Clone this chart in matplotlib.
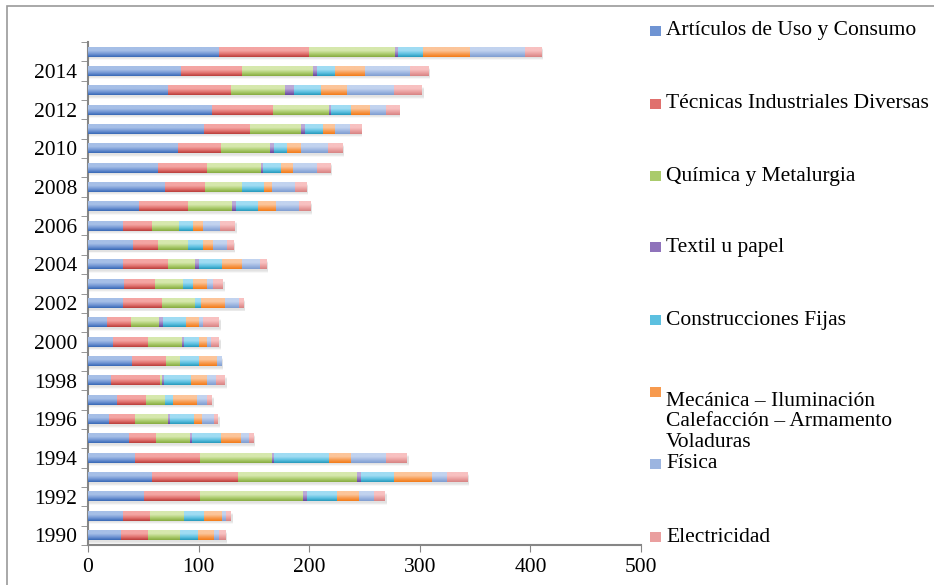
import numpy as np
import matplotlib
matplotlib.use("Agg")
import matplotlib.pyplot as plt
from matplotlib.colors import LinearSegmentedColormap
from matplotlib.patches import Rectangle

plt.rcParams['font.family'] = ['Liberation Serif', 'DejaVu Serif']

# años (de abajo hacia arriba)
years = list(range(1990, 2016))
year_labels = [str(y) if y % 2 == 0 else '' for y in years]

categorias = [
    'Artículos de Uso y Consumo',
    'Técnicas Industriales Diversas',
    'Química y Metalurgia',
    'Textil u papel',
    'Construcciones Fijas',
    'Mecánica – Iluminación\nCalefacción – Armamento\nVoladuras',
    'Física',
    'Electricidad',
]

# valores por categoría, 1990 .. 2015
articulos = [30, 31.5, 50.5, 57.7, 42.3, 37, 19, 26, 20.7, 39.6, 22.5, 17, 31.5,
             33, 31.5, 40.5, 31.5, 46, 70, 63, 81, 104.5, 112, 72, 84, 118]
tecnicas = [24.4, 24.4, 50.4, 78.3, 58.6, 24.4, 23.4, 26, 44, 30.6, 31.5, 21.6, 35,
            28, 40.5, 22.5, 26, 44, 36, 45, 39, 42, 55, 57, 55, 82]
quimica = [28.8, 30.6, 93.7, 107.2, 65.8, 30.6, 30, 18, 1.8, 12.6, 30.6, 26, 30.6,
           25, 25, 27, 25, 40.5, 33, 48, 45, 46, 51, 49, 64, 78]
textil = [0, 0, 3.6, 3.6, 1.8, 1.8, 1.8, 0, 1.8, 0, 1.8, 3.6, 0,
          0, 3.6, 0, 0, 3.6, 0, 2, 3.6, 4, 2, 8, 4, 2]
construcciones = [16.2, 18, 27, 29.8, 49.5, 26.4, 21.6, 7.2, 25, 18, 14.4, 20, 5.4,
                  9, 21, 14.4, 12.6, 20, 20, 16.5, 11, 16, 18, 25, 16, 23]
mecanica = [14.4, 17.1, 19.8, 34.2, 19.8, 18, 7.2, 21.6, 14.4, 15.6, 7.2, 12.6, 21,
            12.6, 18, 9, 9, 16, 7, 11, 13, 11, 17, 23, 27, 42]
fisica = [4.5, 3.6, 13.9, 13.5, 31.8, 7.2, 10.8, 9, 8.4, 4.2, 3.6, 3.6, 12.6,
          5.4, 16, 12, 15.6, 21, 21, 22, 24, 13, 14, 43, 41, 50]
electricidad = [6.3, 4.5, 9.6, 18.9, 18.7, 4.2, 3.6, 4.5, 7.8, 0, 7.2, 14.4, 4.2,
                9, 6, 6, 13.2, 10, 10, 12, 13.5, 10, 12, 25, 17, 15]

series = [articulos, tecnicas, quimica, textil, construcciones, mecanica, fisica, electricidad]

# (oscuro abajo, medio, claro arriba) estilo Excel
gradientes = [
    ('#3767b5', '#6f94d3', '#a6bfe7'),
    ('#b83c39', '#e0706d', '#f4a5a3'),
    ('#86aa40', '#aacb6c', '#d6e8ad'),
    ('#65459a', '#8f73bb', '#bba9d7'),
    ('#2698bb', '#5cc0e0', '#a0dcf3'),
    ('#f27a18', '#f79a4e', '#fcc59a'),
    ('#7f9dd0', '#9cb5e0', '#c2d3ef'),
    ('#d68383', '#ea9f9f', '#f8c1c1'),
]

W, H = 934, 585
fig = plt.figure(figsize=(W / 100, H / 100), dpi=100)
ax = fig.add_axes([88 / W, 1 - 545 / H, (641 - 88) / W, (545 - 42) / H])

# marco exterior del gráfico
fig.patches.append(Rectangle((7 / W, -0.05), 1.1, 1 - 6 / H + 0.05, transform=fig.transFigure,
                             fill=False, edgecolor='#9a9a9a', linewidth=1.2))

y = np.arange(len(years))
bar_h = 0.5
totales = np.sum(np.array(series), axis=0)

# sombra suave debajo de las barras
for k, a in enumerate([0.06, 0.11, 0.06]):
    ax.barh(y - 0.13 - 0.05 * (k - 1), totales + 1.5, height=bar_h, color='#808080',
            alpha=a, linewidth=0, zorder=1)

grad = np.linspace(0, 1, 64).reshape(-1, 1)
left = np.zeros(len(years))
for vals, (c0, c1, c2) in zip(series, gradientes):
    vals = np.array(vals, dtype=float)
    bars = ax.barh(y, vals, left=left, height=bar_h, color=c1, linewidth=0, zorder=2)
    cmap = LinearSegmentedColormap.from_list('g', [(0, c0), (0.3, c1), (0.65, c2), (1, c2)])
    for p in bars.patches:
        w = p.get_width()
        if w <= 0:
            continue
        x0, y0, h = p.get_x(), p.get_y(), p.get_height()
        ax.imshow(grad, extent=[x0, x0 + w, y0, y0 + h], aspect='auto', cmap=cmap,
                  origin='lower', zorder=3, clip_path=p, interpolation='bilinear')
    left += vals

ax.set_xlim(0, 500)
ax.set_ylim(-0.5, len(years) - 0.5)
ax.set_aspect('auto')

ax.set_xticks(np.arange(0, 501, 100))
ax.set_yticks(y)
ax.set_yticklabels(year_labels)
ax.set_yticks(np.arange(-0.5, len(years), 1), minor=True)
ax.tick_params(axis='y', which='major', length=0, pad=8, labelsize=15.5)
ax.tick_params(axis='y', which='minor', length=5, color='#868686', direction='out')
ax.tick_params(axis='x', which='major', length=5, color='#868686', direction='out',
               labelsize=15.5, pad=4)

for s in ['top', 'right']:
    ax.spines[s].set_visible(False)
for s in ['left', 'bottom']:
    ax.spines[s].set_color('#868686')
    ax.spines[s].set_linewidth(1.5)

# leyenda a la derecha
ley_y = [31, 104, 176, 247, 320, 392, 464, 537]
for lab, (c0, c1, c2), py in zip(categorias, gradientes, ley_y):
    fig.patches.append(Rectangle((650 / W, 1 - (py + 5) / H), 11 / W, 10 / H,
                                 transform=fig.transFigure, facecolor=c1,
                                 edgecolor='none'))
    fig.text(666 / W, 1 - py / H, lab, fontsize=15.5, va='top' if '\n' in lab else 'center',
             ha='left', linespacing=1.1)

fig.savefig('out.png', dpi=100)
